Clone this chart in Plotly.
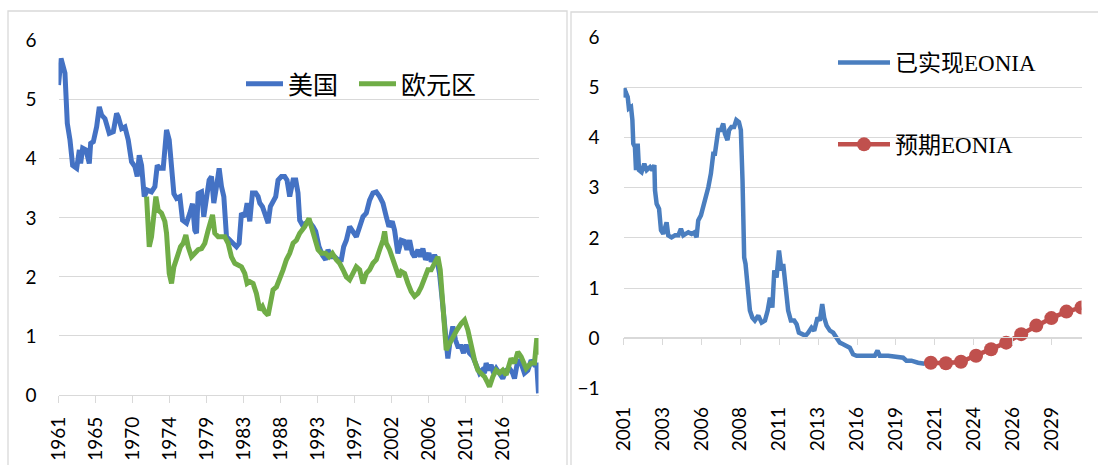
import plotly.graph_objects as go

# ---------------- 左图：美国 / 欧元区 ----------------
us_year = [
    1961.00, 1961.31, 1961.80, 1962.09, 1962.42, 1962.75, 1963.25, 1963.58, 1963.74, 1963.99,
    1964.40, 1964.81, 1964.98, 1965.31, 1965.72, 1966.05, 1966.34, 1966.75, 1967.28, 1967.78,
    1968.19, 1968.40, 1968.81, 1969.22, 1969.63, 1970.04, 1970.45, 1970.74, 1970.99, 1971.28,
    1971.61, 1971.98, 1972.51, 1972.93, 1973.22, 1973.55, 1973.96, 1974.37, 1974.70, 1974.99,
    1975.28, 1975.61, 1976.02, 1976.35, 1976.84, 1977.26, 1977.58, 1977.87, 1978.08, 1978.28,
    1978.70, 1978.98, 1979.31, 1979.64, 1979.93, 1980.22, 1980.55, 1980.88, 1981.17, 1981.46,
    1981.79, 1982.20, 1982.61, 1983.02, 1983.35, 1983.64, 1984.05, 1984.34, 1984.67, 1985.00,
    1985.41, 1985.70, 1985.91, 1986.24, 1986.52, 1986.94, 1987.22, 1987.55, 1987.88, 1988.17,
    1988.58, 1988.99, 1989.28, 1989.61, 1990.03, 1990.36, 1990.64, 1990.85, 1991.18, 1991.59,
    1992.00, 1992.50, 1992.83, 1993.24, 1993.65, 1994.06, 1994.35, 1994.76, 1995.18, 1995.59,
    1996.00, 1996.29, 1996.62, 1997.03, 1997.44, 1997.86, 1998.27, 1998.68, 1999.09, 1999.50,
    1999.91, 2000.33, 2000.74, 2001.15, 2001.56, 2001.89, 2002.30, 2002.59, 2003.00, 2003.42,
    2003.83, 2004.12, 2004.45, 2004.78, 2005.06, 2005.48, 2005.77, 2006.09, 2006.42, 2006.84,
    2007.12, 2007.54, 2007.83, 2008.15, 2008.57, 2008.90, 2009.18, 2009.47, 2009.80, 2010.13,
    2010.42, 2010.83, 2011.12, 2011.45, 2011.86, 2012.27, 2012.69, 2013.10, 2013.43, 2013.72,
    2013.92, 2014.25, 2014.54, 2014.83, 2015.16, 2015.57, 2015.98, 2016.40, 2016.81, 2017.20,
    2017.43, 2017.84, 2018.25, 2018.66, 2019.08, 2019.49, 2019.90, 2020.19, 2020.40,
]
us_value = [
    5.25, 5.70, 5.45, 4.60, 4.32, 3.89, 3.84, 4.15, 3.92, 4.18,
    4.15, 3.92, 4.26, 4.29, 4.54, 4.88, 4.74, 4.68, 4.43, 4.46,
    4.77, 4.71, 4.51, 4.54, 4.32, 3.95, 3.87, 3.70, 4.06, 3.89,
    3.36, 3.47, 3.44, 3.53, 3.89, 3.84, 3.84, 4.49, 4.32, 3.87,
    3.41, 3.33, 3.36, 2.96, 2.91, 3.08, 3.24, 2.79, 2.74, 3.41,
    3.44, 3.02, 3.30, 3.64, 3.70, 3.25, 3.53, 3.84, 3.53, 3.36,
    2.68, 2.62, 2.57, 2.51, 2.57, 3.08, 3.02, 3.25, 2.94, 3.42,
    3.42, 3.36, 3.25, 3.19, 3.08, 2.91, 3.19, 3.30, 3.36, 3.64,
    3.70, 3.70, 3.64, 3.36, 3.64, 3.64, 3.42, 2.96, 2.88, 2.91,
    2.94, 2.85, 2.77, 2.51, 2.37, 2.29, 2.46, 2.34, 2.34, 2.29,
    2.29, 2.51, 2.62, 2.85, 2.77, 2.68, 2.85, 3.02, 3.08, 3.30,
    3.42, 3.44, 3.36, 3.25, 3.02, 2.85, 2.94, 2.79, 2.40, 2.62,
    2.60, 2.46, 2.62, 2.40, 2.34, 2.46, 2.34, 2.48, 2.29, 2.40,
    2.26, 2.37, 2.29, 2.06, 1.50, 0.93, 0.62, 0.93, 1.16, 0.93,
    0.82, 0.82, 0.71, 0.85, 0.71, 0.65, 0.51, 0.37, 0.42, 0.37,
    0.54, 0.42, 0.51, 0.37, 0.45, 0.37, 0.28, 0.42, 0.45, 0.37,
    0.28, 0.59, 0.54, 0.37, 0.42, 0.59, 0.51, 0.51, 0.03,
]

ez_year = [
    1971.90, 1972.23, 1972.51, 1972.80, 1973.05, 1973.34, 1973.75, 1974.16, 1974.37, 1974.70,
    1974.99, 1975.28, 1975.69, 1976.10, 1976.43, 1976.76, 1977.05, 1977.46, 1977.87, 1978.28,
    1978.70, 1979.11, 1979.52, 1980.06, 1980.34, 1980.76, 1981.17, 1981.58, 1981.99, 1982.40,
    1982.82, 1983.23, 1983.64, 1984.05, 1984.34, 1984.67, 1985.08, 1985.49, 1985.91, 1986.24,
    1986.52, 1986.94, 1987.22, 1987.55, 1987.97, 1988.38, 1988.79, 1989.20, 1989.61, 1990.03,
    1990.44, 1990.85, 1991.47, 1992.00, 1992.29, 1992.70, 1993.12, 1993.53, 1994.06, 1994.48,
    1994.89, 1995.38, 1995.79, 1996.21, 1996.62, 1997.03, 1997.44, 1997.85, 1998.27, 1998.68,
    1999.09, 1999.50, 1999.91, 2000.33, 2000.74, 2001.15, 2001.36, 2001.56, 2001.97, 2002.39,
    2002.80, 2003.13, 2003.42, 2003.83, 2004.24, 2004.65, 2005.06, 2005.48, 2005.89, 2006.30,
    2006.71, 2007.12, 2007.54, 2007.95, 2008.24, 2008.57, 2008.98, 2009.39, 2009.80, 2010.30,
    2010.83, 2011.25, 2011.66, 2012.07, 2012.48, 2012.89, 2013.30, 2013.72, 2014.13, 2014.33,
    2014.75, 2015.16, 2015.57, 2015.98, 2016.40, 2016.73, 2017.00, 2017.43, 2017.84, 2018.25,
    2018.87, 2019.49, 2019.90, 2020.19, 2020.40,
]
ez_value = [
    3.36, 2.51, 2.68, 3.13, 3.36, 3.13, 3.08, 2.94, 2.74, 2.06,
    1.89, 2.17, 2.34, 2.51, 2.57, 2.71, 2.51, 2.34, 2.40, 2.46,
    2.48, 2.57, 2.79, 3.05, 2.74, 2.68, 2.68, 2.68, 2.57, 2.34,
    2.23, 2.20, 2.17, 2.06, 1.89, 1.92, 1.89, 1.72, 1.44, 1.50,
    1.41, 1.35, 1.55, 1.78, 1.83, 1.95, 2.12, 2.29, 2.40, 2.57,
    2.62, 2.74, 2.85, 2.99, 2.85, 2.62, 2.46, 2.40, 2.40, 2.34,
    2.40, 2.29, 2.23, 2.12, 2.00, 1.95, 2.06, 2.17, 2.12, 1.89,
    2.06, 2.12, 2.23, 2.29, 2.46, 2.62, 2.77, 2.57, 2.46, 2.29,
    2.12, 2.00, 2.09, 2.06, 1.89, 1.75, 1.67, 1.72, 1.83, 2.00,
    2.12, 2.12, 2.23, 2.34, 2.12, 1.55, 0.76, 0.87, 0.99, 1.10,
    1.21, 1.27, 1.10, 0.82, 0.59, 0.42, 0.37, 0.31, 0.20, 0.14,
    0.31, 0.42, 0.37, 0.42, 0.34, 0.54, 0.62, 0.54, 0.73, 0.65,
    0.45, 0.54, 0.54, 0.96, 0.68,
]

left_tick_labels = ["1961", "1965", "1970", "1974", "1979", "1983", "1988",
                    "1993", "1997", "2002", "2006", "2011", "2016"]

# ---------------- 右图：EONIA ----------------
eonia_year = [
    2001.00, 2001.06, 2001.14, 2001.28, 2001.36, 2001.50, 2001.59, 2001.65, 2001.76, 2001.83,
    2001.94, 2002.03, 2002.20, 2002.38, 2002.54, 2002.76, 2002.91, 2003.05, 2003.09, 2003.20,
    2003.36, 2003.49, 2003.64, 2003.86, 2003.97, 2004.19, 2004.42, 2004.64, 2004.81, 2004.97,
    2005.13, 2005.30, 2005.52, 2005.70, 2005.85, 2005.96, 2006.14, 2006.29, 2006.45, 2006.63,
    2006.80, 2006.96, 2007.07, 2007.18, 2007.29, 2007.47, 2007.62, 2007.73, 2007.90, 2008.01,
    2008.16, 2008.34, 2008.49, 2008.66, 2008.79, 2008.90, 2009.01, 2009.10, 2009.19, 2009.28,
    2009.39, 2009.55, 2009.72, 2009.95, 2010.17, 2010.39, 2010.57, 2010.72, 2010.88, 2011.01,
    2011.16, 2011.32, 2011.49, 2011.60, 2011.76, 2011.93, 2012.11, 2012.33, 2012.49, 2012.64,
    2012.86, 2013.08, 2013.26, 2013.48, 2013.66, 2013.88, 2014.03, 2014.19, 2014.32, 2014.48,
    2014.70, 2014.92, 2015.14, 2015.36, 2015.58, 2015.80, 2016.02, 2016.24, 2016.47, 2016.80,
    2017.24, 2017.68, 2017.86, 2018.01, 2018.57, 2019.01, 2019.56, 2019.78, 2020.11, 2020.55,
    2021.00,
]
eonia_value = [
    4.80, 4.98, 4.91, 4.81, 4.58, 4.61, 4.35, 3.88, 3.81, 3.35,
    3.88, 3.35, 3.31, 3.48, 3.35, 3.41, 3.35, 3.45, 2.95, 2.68,
    2.58, 2.15, 2.08, 2.31, 2.05, 2.01, 2.05, 2.05, 2.18, 2.05,
    2.08, 2.11, 2.08, 2.11, 2.01, 2.35, 2.45, 2.61, 2.81, 3.01,
    3.28, 3.68, 3.68, 3.88, 4.15, 4.15, 4.28, 4.08, 3.95, 4.15,
    4.21, 4.21, 4.35, 4.31, 4.15, 3.15, 1.61, 1.48, 1.21, 0.81,
    0.55, 0.41, 0.35, 0.45, 0.31, 0.35, 0.55, 0.81, 0.61, 1.35,
    1.21, 1.75, 1.35, 1.48, 0.95, 0.55, 0.35, 0.35, 0.28, 0.11,
    0.08, 0.05, 0.11, 0.21, 0.15, 0.41, 0.35, 0.68, 0.41, 0.25,
    0.15, 0.11, 0.01, -0.09, -0.12, -0.15, -0.19, -0.32, -0.35, -0.35,
    -0.35, -0.35, -0.25, -0.35, -0.35, -0.37, -0.39, -0.45, -0.45, -0.49,
    -0.51,
]

expected_year = [2021.4, 2022.4, 2023.4, 2024.4, 2025.4, 2026.4,
                 2027.4, 2028.4, 2029.4, 2030.4, 2031.4]
expected_value = [-0.49, -0.50, -0.47, -0.35, -0.22, -0.09,
                  0.08, 0.25, 0.40, 0.53, 0.61]

right_tick_labels = ["2001", "2003", "2006", "2008", "2011", "2013",
                     "2016", "2019", "2021", "2024", "2026", "2029"]

# ---------------- 画布与坐标换算 ----------------
W, H = 1098, 465


def px(x):
    return x / W


def py(y):
    return 1 - y / H


GRID = "#d9d9d9"
TICK_FONT = dict(family="Lato, 'Open Sans', sans-serif", size=19, color="#000000")
CJK_FONT = "'Liberation Serif', 'Noto Sans CJK SC', serif"

# 刻度每 55 个月一个（左图），每 31 个月一个（右图）
left_tickvals = [us_year[0] + k * 55 / 12 for k in range(len(left_tick_labels))]
right_tickvals = [eonia_year[0] + k * 31 / 12 for k in range(len(right_tick_labels))]

fig = go.Figure()

fig.add_trace(go.Scatter(
    x=us_year, y=us_value, mode="lines", name="美国",
    line=dict(color="#4472C4", width=5),
    xaxis="x", yaxis="y", legend="legend",
))
fig.add_trace(go.Scatter(
    x=ez_year, y=ez_value, mode="lines", name="欧元区",
    line=dict(color="#70AD47", width=5),
    xaxis="x", yaxis="y", legend="legend3",
))
fig.add_trace(go.Scatter(
    x=eonia_year, y=eonia_value, mode="lines", name="已实现EONIA",
    line=dict(color="#4A7EBF", width=4.5),
    xaxis="x2", yaxis="y2", legend="legend2", legendgroup="real",
))
fig.add_trace(go.Scatter(
    x=expected_year, y=expected_value, mode="lines+markers", name="预期EONIA",
    line=dict(color="#C0504D", width=4.5),
    marker=dict(color="#C0504D", size=14),
    xaxis="x3", yaxis="y2", legend="legend2", legendgroup="exp",
))

left_dom = [px(58.5), px(538.5)]
right_dom = [px(623.5), px(1081.5)]

left_legend_style = dict(
    orientation="h", xanchor="left", yanchor="middle",
    font=dict(family=CJK_FONT, size=25, color="#000000"),
    bgcolor="rgba(0,0,0,0)", itemwidth=37,
)

fig.update_layout(
    width=W, height=H,
    margin=dict(l=0, r=0, t=0, b=0, autoexpand=False),
    paper_bgcolor="white", plot_bgcolor="white",
    showlegend=True,
    xaxis=dict(
        domain=left_dom, anchor="y",
        range=[us_year[0], us_year[-1]],
        tickmode="array", tickvals=left_tickvals, ticktext=left_tick_labels,
        tickangle=-90, tickfont=TICK_FONT,
        ticks="outside", ticklen=7, tickwidth=1.3, tickcolor=GRID,
        ticklabelstandoff=6,
        showline=True, linecolor=GRID, linewidth=1.3,
        showgrid=False, zeroline=False,
    ),
    yaxis=dict(
        domain=[py(395), py(40.7)], anchor="x",
        range=[0, 6], dtick=1, tick0=0,
        tickfont=TICK_FONT, ticks="",
        ticklabelstandoff=21,
        showgrid=True, gridcolor=GRID, gridwidth=1.3,
        zeroline=False, showline=False,
    ),
    xaxis2=dict(
        domain=right_dom, anchor="y2",
        range=[eonia_year[0], expected_year[-1]],
        tickmode="array", tickvals=right_tickvals, ticktext=right_tick_labels,
        tickangle=-90, tickfont=TICK_FONT,
        ticks="", ticklabelstandoff=14,
        showline=False, showgrid=False, zeroline=False,
    ),
    xaxis3=dict(
        domain=right_dom, overlaying="x2", anchor="free", position=py(337.3),
        range=[eonia_year[0], expected_year[-1]],
        tickmode="array", tickvals=right_tickvals,
        showticklabels=False,
        ticks="outside", ticklen=7, tickwidth=1.3, tickcolor=GRID,
        showline=True, linecolor=GRID, linewidth=1.3,
        showgrid=False, zeroline=False,
    ),
    yaxis2=dict(
        domain=[py(388.3), py(37.3)], anchor="x2",
        range=[-1, 6], dtick=1, tick0=0,
        tickfont=TICK_FONT, ticks="",
        ticklabelstandoff=23,
        showgrid=True, gridcolor=GRID, gridwidth=1.3,
        zeroline=False, showline=False,
    ),
    legend=dict(x=px(241), y=py(84), **left_legend_style),
    legend3=dict(x=px(354), y=py(84), **left_legend_style),
    legend2=dict(
        orientation="v", x=px(833), y=py(41),
        xanchor="left", yanchor="top",
        font=dict(family=CJK_FONT, size=23, color="#000000"),
        bgcolor="rgba(0,0,0,0)", itemwidth=52,
        tracegroupgap=49,
    ),
    shapes=[
        # 两个图表的外框
        dict(type="rect", xref="paper", yref="paper",
             x0=px(8), x1=px(567), y0=py(11), y1=py(490),
             line=dict(color=GRID, width=1.3), fillcolor="rgba(0,0,0,0)"),
        dict(type="rect", xref="paper", yref="paper",
             x0=px(571), x1=px(1120), y0=py(12), y1=py(490),
             line=dict(color=GRID, width=1.3), fillcolor="rgba(0,0,0,0)"),
        # 图例文字背后的白底
        dict(type="rect", xref="paper", yref="paper", layer="between",
             x0=px(891), x1=px(1054), y0=py(160), y1=py(50),
             line=dict(width=0), fillcolor="white"),
    ],
)

fig.write_html(
    "out.html",
    post_script="document.body.style.margin='0';document.body.style.overflow='hidden';",
)
